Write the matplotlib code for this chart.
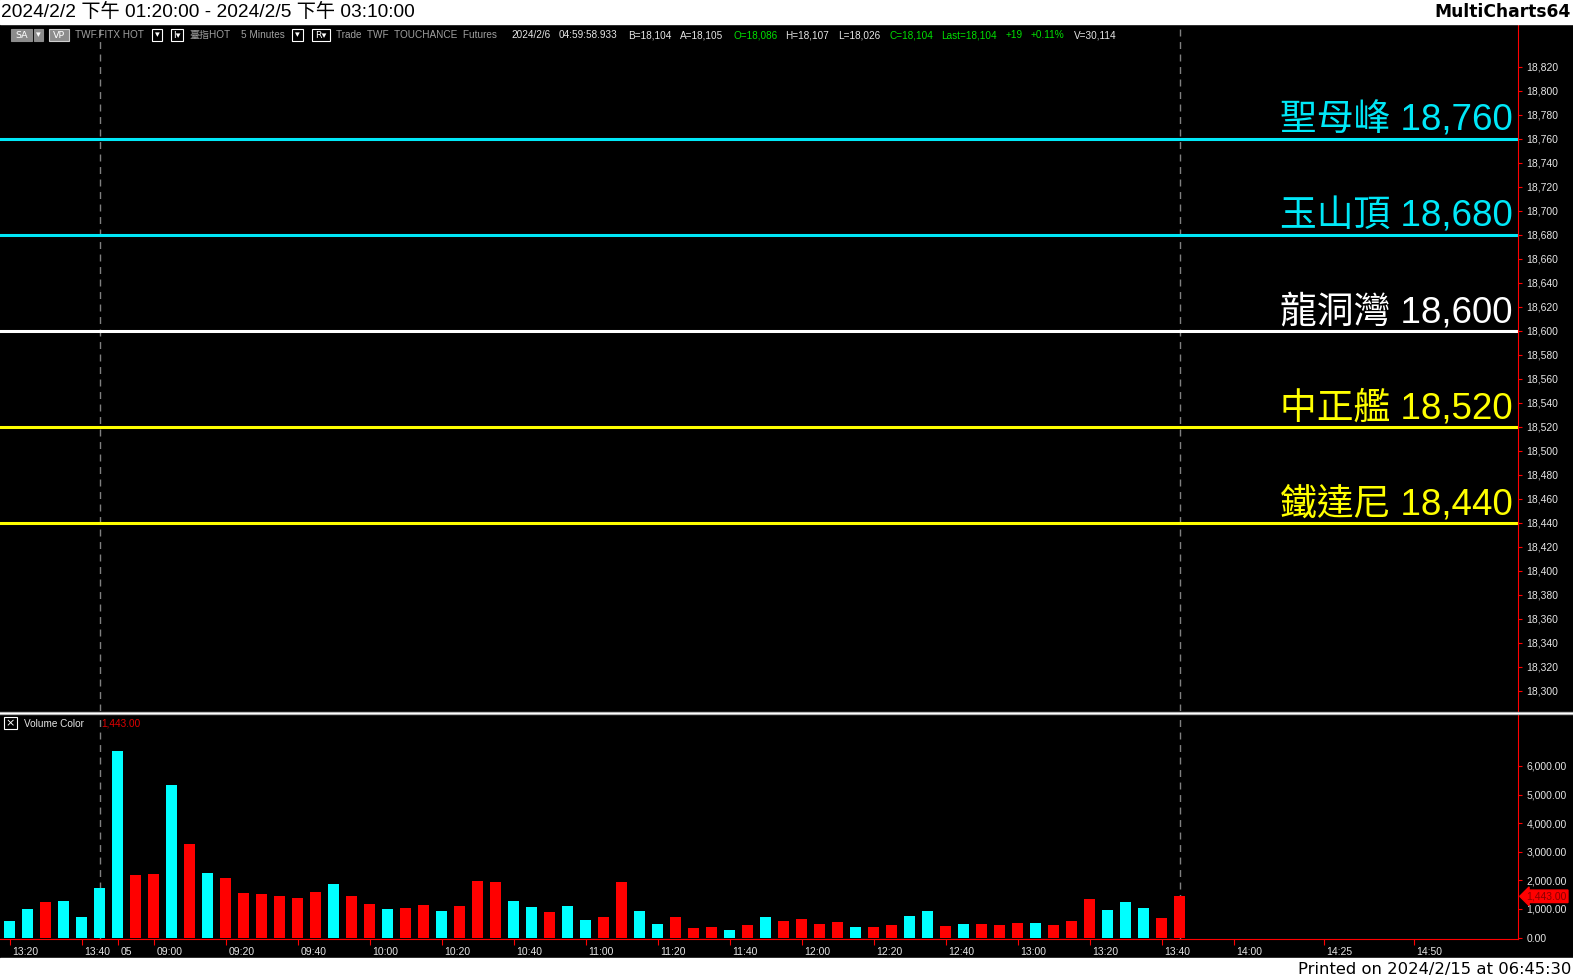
import numpy as np
import matplotlib
matplotlib.use('Agg')
import matplotlib.pyplot as plt
from matplotlib.patches import Rectangle
from matplotlib import transforms

# key price levels (name, value, colour)
level_names = ['聖母峰', '玉山頂', '龍洞灣', '中正艦', '鐵達尼']
level_values = [18760, 18680, 18600, 18520, 18440]
level_colors = ['#00e8f8', '#00e8f8', '#ffffff', '#ffff00', '#ffff00']

# 5 minute volume bars, 'c' = up (cyan), 'r' = down (red)
volume = [580, 1000, 1245, 1280, 720, 1735, 6525, 2190, 2225, 5335,
          3270, 2260, 2085, 1560, 1525, 1455, 1385, 1595, 1875, 1455,
          1175, 1000, 1035, 1140, 930, 1105, 1980, 1945, 1280, 1070,
          895, 1105, 615, 720, 1945, 930, 475, 720, 335, 370,
          265, 440, 720, 580, 650, 475, 545, 370, 370, 440,
          755, 930, 405, 475, 475, 440, 510, 510, 440, 580,
          1350, 965, 1245, 1035, 685, 1443]
direction = ['c', 'c', 'r', 'c', 'c', 'c', 'c', 'r', 'r', 'c',
             'r', 'c', 'r', 'r', 'r', 'r', 'r', 'r', 'c', 'r',
             'r', 'c', 'r', 'r', 'c', 'r', 'r', 'r', 'c', 'c',
             'r', 'c', 'c', 'r', 'r', 'c', 'c', 'r', 'r', 'r',
             'c', 'r', 'c', 'r', 'r', 'r', 'r', 'c', 'r', 'r',
             'c', 'c', 'r', 'c', 'r', 'r', 'r', 'c', 'r', 'r',
             'r', 'c', 'c', 'c', 'r', 'r']

# time axis labels (bar index -> label)
tick_pos = [0, 4, 6, 8, 12, 16, 20, 24, 28, 32, 36, 40, 44, 48, 52, 56, 60, 64, 68, 73, 78]
tick_labels = ['13:20', '13:40', '05', '09:00', '09:20', '09:40', '10:00', '10:20', '10:40',
               '11:00', '11:20', '11:40', '12:00', '12:20', '12:40', '13:00', '13:20', '13:40',
               '14:00', '14:25', '14:50']
session_breaks = [5, 65]

price_ticks = np.arange(18300, 18821, 20)
volume_ticks = np.arange(0, 6001, 1000)

plt.rcParams['font.family'] = ['Liberation Sans', 'Noto Sans CJK TC', 'DejaVu Sans']

W, H = 1573, 980
fig = plt.figure(figsize=(W / 100, H / 100), dpi=100, facecolor='black')


def fx(x):
    return x / W


def fy(y):
    return 1 - y / H


# white bands top and bottom
fig.patches.append(Rectangle((0, fy(24)), 1, 24 / H, transform=fig.transFigure,
                             color='white', zorder=0))
fig.patches.append(Rectangle((0, 0), 1, 22 / H, transform=fig.transFigure,
                             color='white', zorder=0))

ax_p = fig.add_axes([0, fy(711), fx(1518), (711 - 24) / H], facecolor='black')
ax_v = fig.add_axes([0, fy(939), fx(1518), (939 - 714) / H], facecolor='black')

for ax in (ax_p, ax_v):
    ax.set_xlim(-0.53, 83.8)
    for s in ['left', 'top']:
        ax.spines[s].set_visible(False)
    ax.spines['right'].set_color('red')
    ax.yaxis.tick_right()
    for b in session_breaks:
        ax.axvline(b, color='#808080', lw=1, ls=(0, (5, 4)), zorder=1)

# price panel
ax_p.spines['bottom'].set_visible(False)
ax_p.set_ylim(18283.3, 18855.8)
ax_p.set_xticks([])
ax_p.set_yticks(price_ticks)
ax_p.set_yticklabels([f'{v:,}' for v in price_ticks])
ax_p.tick_params(axis='y', colors='red', labelcolor='#e6e6e6', length=3, labelsize=7.5, pad=3)

for name, val, c in zip(level_names, level_values, level_colors):
    ax_p.axhline(val, color=c, lw=2.2, zorder=2)
    ax_p.annotate(f'{name} {val:,}', xy=(1, val), xycoords=('axes fraction', 'data'),
                  xytext=(-4, 6.3), textcoords='offset points', ha='right', va='baseline',
                  color=c, fontsize=26.5, zorder=3)

# volume panel
x = np.arange(len(volume))
bar_colors = ['#00ffff' if d == 'c' else '#ff0000' for d in direction]
ax_v.bar(x, volume, width=0.61, color=bar_colors, zorder=2)
ax_v.set_ylim(-50, 7818)
ax_v.spines['bottom'].set_color('red')
ax_v.set_yticks(volume_ticks)
ax_v.set_yticklabels([f'{v:,.2f}' for v in volume_ticks])
ax_v.tick_params(axis='y', colors='red', labelcolor='#e6e6e6', length=3, labelsize=7.5, pad=3)
ax_v.set_xticks(tick_pos)
ax_v.set_xticklabels(tick_labels)
ax_v.tick_params(axis='x', colors='red', labelcolor='#e6e6e6', length=4, labelsize=7.5, pad=2)
shift = transforms.ScaledTranslation(3 / 100, 0, fig.dpi_scale_trans)
for lbl in ax_v.get_xticklabels():
    lbl.set_ha('left')
    lbl.set_transform(lbl.get_transform() + shift)

ax_v.annotate(f'{volume[-1]:,.2f}', xy=(1, volume[-1]), xycoords=('axes fraction', 'data'),
              xytext=(6, 0), textcoords='offset points', ha='left', va='center',
              fontsize=7.5, color='#8a0000', annotation_clip=False,
              bbox=dict(boxstyle='larrow,pad=0.12', fc='#ff0000', ec='#ff0000'))

# panel separator
fig.add_artist(plt.Line2D([0, 1], [fy(712.5), fy(712.5)], transform=fig.transFigure,
                          color='#b0b0b0', lw=2.4))
fig.add_artist(plt.Line2D([0, 1], [fy(712.5), fy(712.5)], transform=fig.transFigure,
                          color='white', lw=0.8))

# header texts
fig.text(fx(1), fy(12), '2024/2/2 下午 01:20:00 - 2024/2/5 下午 03:10:00',
         fontsize=13.8, va='center', color='black')
fig.text(fx(1571), fy(12), 'MultiCharts64', ha='right', va='center', fontsize=12.3,
         fontweight='bold', family='DejaVu Sans', color='black')
fig.text(fx(1571), fy(969), 'Printed on 2024/2/15 at 06:45:30', ha='right', va='center',
         fontsize=11.8, family='DejaVu Sans', color='black')


def box(x0, x1, y0, y1, text, fill, edge, tcolor='white'):
    fig.patches.append(Rectangle((fx(x0), fy(y1)), (x1 - x0) / W, (y1 - y0) / H,
                                 transform=fig.transFigure, fc=fill, ec=edge, lw=0.8))
    fig.text(fx((x0 + x1) / 2), fy((y0 + y1) / 2), text, ha='center', va='center',
             fontsize=6.8, color=tcolor, family=['DejaVu Sans'])


box(11, 32, 29, 41, 'SA', '#8c8c8c', '#8c8c8c')
box(34, 43, 29, 41, '▾', '#8c8c8c', '#8c8c8c')
box(49, 69, 29, 41, 'VP', '#8c8c8c', '#cfcfcf')
box(152, 162, 29, 41, '▾', 'black', 'white')
box(171, 183, 29, 41, 'I▾', 'black', 'white')
box(292, 303, 29, 41, '▾', 'black', 'white')
box(312, 330, 29, 41, 'R▾', 'black', 'white')

gray = '#a0a0a0'
green = '#00e000'
light = '#e6e6e6'
info = [('TWF.FITX HOT', 75, gray), ('臺指HOT', 189, gray), ('5 Minutes', 241, gray),
        ('Trade  TWF  TOUCHANCE  Futures', 336, gray), ('2024/2/6', 511, light),
        ('04:59:58.933', 559, light), ('B=18,104', 628, light), ('A=18,105', 680, light),
        ('O=18,086', 733, green), ('H=18,107', 785, light), ('L=18,026', 838, light),
        ('C=18,104', 889, green), ('Last=18,104', 941, green), ('+19', 1006, green),
        ('+0.11%', 1031, green), ('V=30,114', 1074, light)]
for t, xp, c in info:
    fig.text(fx(xp), fy(35), t, fontsize=7.2, va='center', color=c)

# volume panel header
fig.patches.append(Rectangle((fx(4), fy(729)), 13 / W, 12 / H, transform=fig.transFigure,
                             fc='black', ec='white', lw=0.8))
fig.text(fx(10.5), fy(723), '×', ha='center', va='center', fontsize=8, color='white',
         family=['DejaVu Sans'])
fig.text(fx(24), fy(723.5), 'Volume Color', fontsize=7.2, va='center', color=light)
fig.text(fx(101), fy(723.5), f'{volume[-1]:,.2f}', fontsize=7.2, va='center', color='#e00000')

fig.savefig('out.png', dpi=100, facecolor='black')
